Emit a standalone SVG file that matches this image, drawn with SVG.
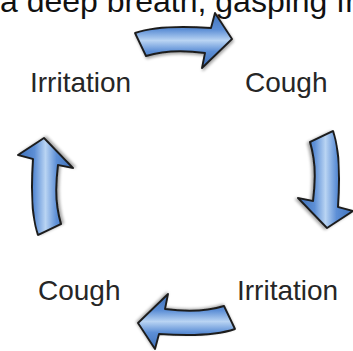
<svg xmlns="http://www.w3.org/2000/svg" width="353" height="351" viewBox="0 0 353 351">
<style>
.lbl{font-family:"Liberation Sans",Arial,sans-serif;font-size:28px;fill:#262626}
.top{font-family:"Liberation Sans",Arial,sans-serif;font-size:32px;fill:#111}
.arr{fill:url(#g);stroke:#1e1e1e;stroke-width:1.9;stroke-linejoin:round;filter:url(#sh)}
</style>
<defs>
<linearGradient id="g" x1="0" y1="0" x2="0" y2="1">
<stop offset="0" stop-color="#3f70b9"/>
<stop offset="0.3" stop-color="#5d8fd6"/>
<stop offset="0.5" stop-color="#b9d4f3"/>
<stop offset="0.7" stop-color="#5d8fd6"/>
<stop offset="1" stop-color="#3c6cb3"/>
</linearGradient>
<filter id="sh" x="-20%" y="-20%" width="140%" height="140%">
<feGaussianBlur in="SourceAlpha" stdDeviation="1.5"/>
<feOffset dx="1" dy="1.5" result="b"/>
<feComponentTransfer><feFuncA type="linear" slope="0.35"/></feComponentTransfer>
<feMerge><feMergeNode/><feMergeNode in="SourceGraphic"/></feMerge>
</filter>
<path id="arrow" d="M135,33 C152,27 182,26 211,28 L215,13 L232,39 L202,68 L205,53 C182,50 162,51 146,56 Z"/>
</defs>
<rect width="353" height="351" fill="#fff"/>
<text class="top" x="0" y="12">a deep breath, gasping fr</text>
<g id="connectors">
<use href="#arrow" class="arr"/>
<use href="#arrow" class="arr" transform="rotate(90 185 181)"/>
<use href="#arrow" class="arr" transform="rotate(180 185 181)"/>
<use href="#arrow" class="arr" transform="translate(1 4) rotate(270 185 181)"/>
</g>
<g id="node-irritation-1"><text class="lbl" x="30" y="92">Irritation</text></g>
<g id="node-cough-1"><text class="lbl" x="245" y="92">Cough</text></g>
<g id="node-irritation-2"><text class="lbl" x="237" y="300">Irritation</text></g>
<g id="node-cough-2"><text class="lbl" x="38" y="300">Cough</text></g>
</svg>
